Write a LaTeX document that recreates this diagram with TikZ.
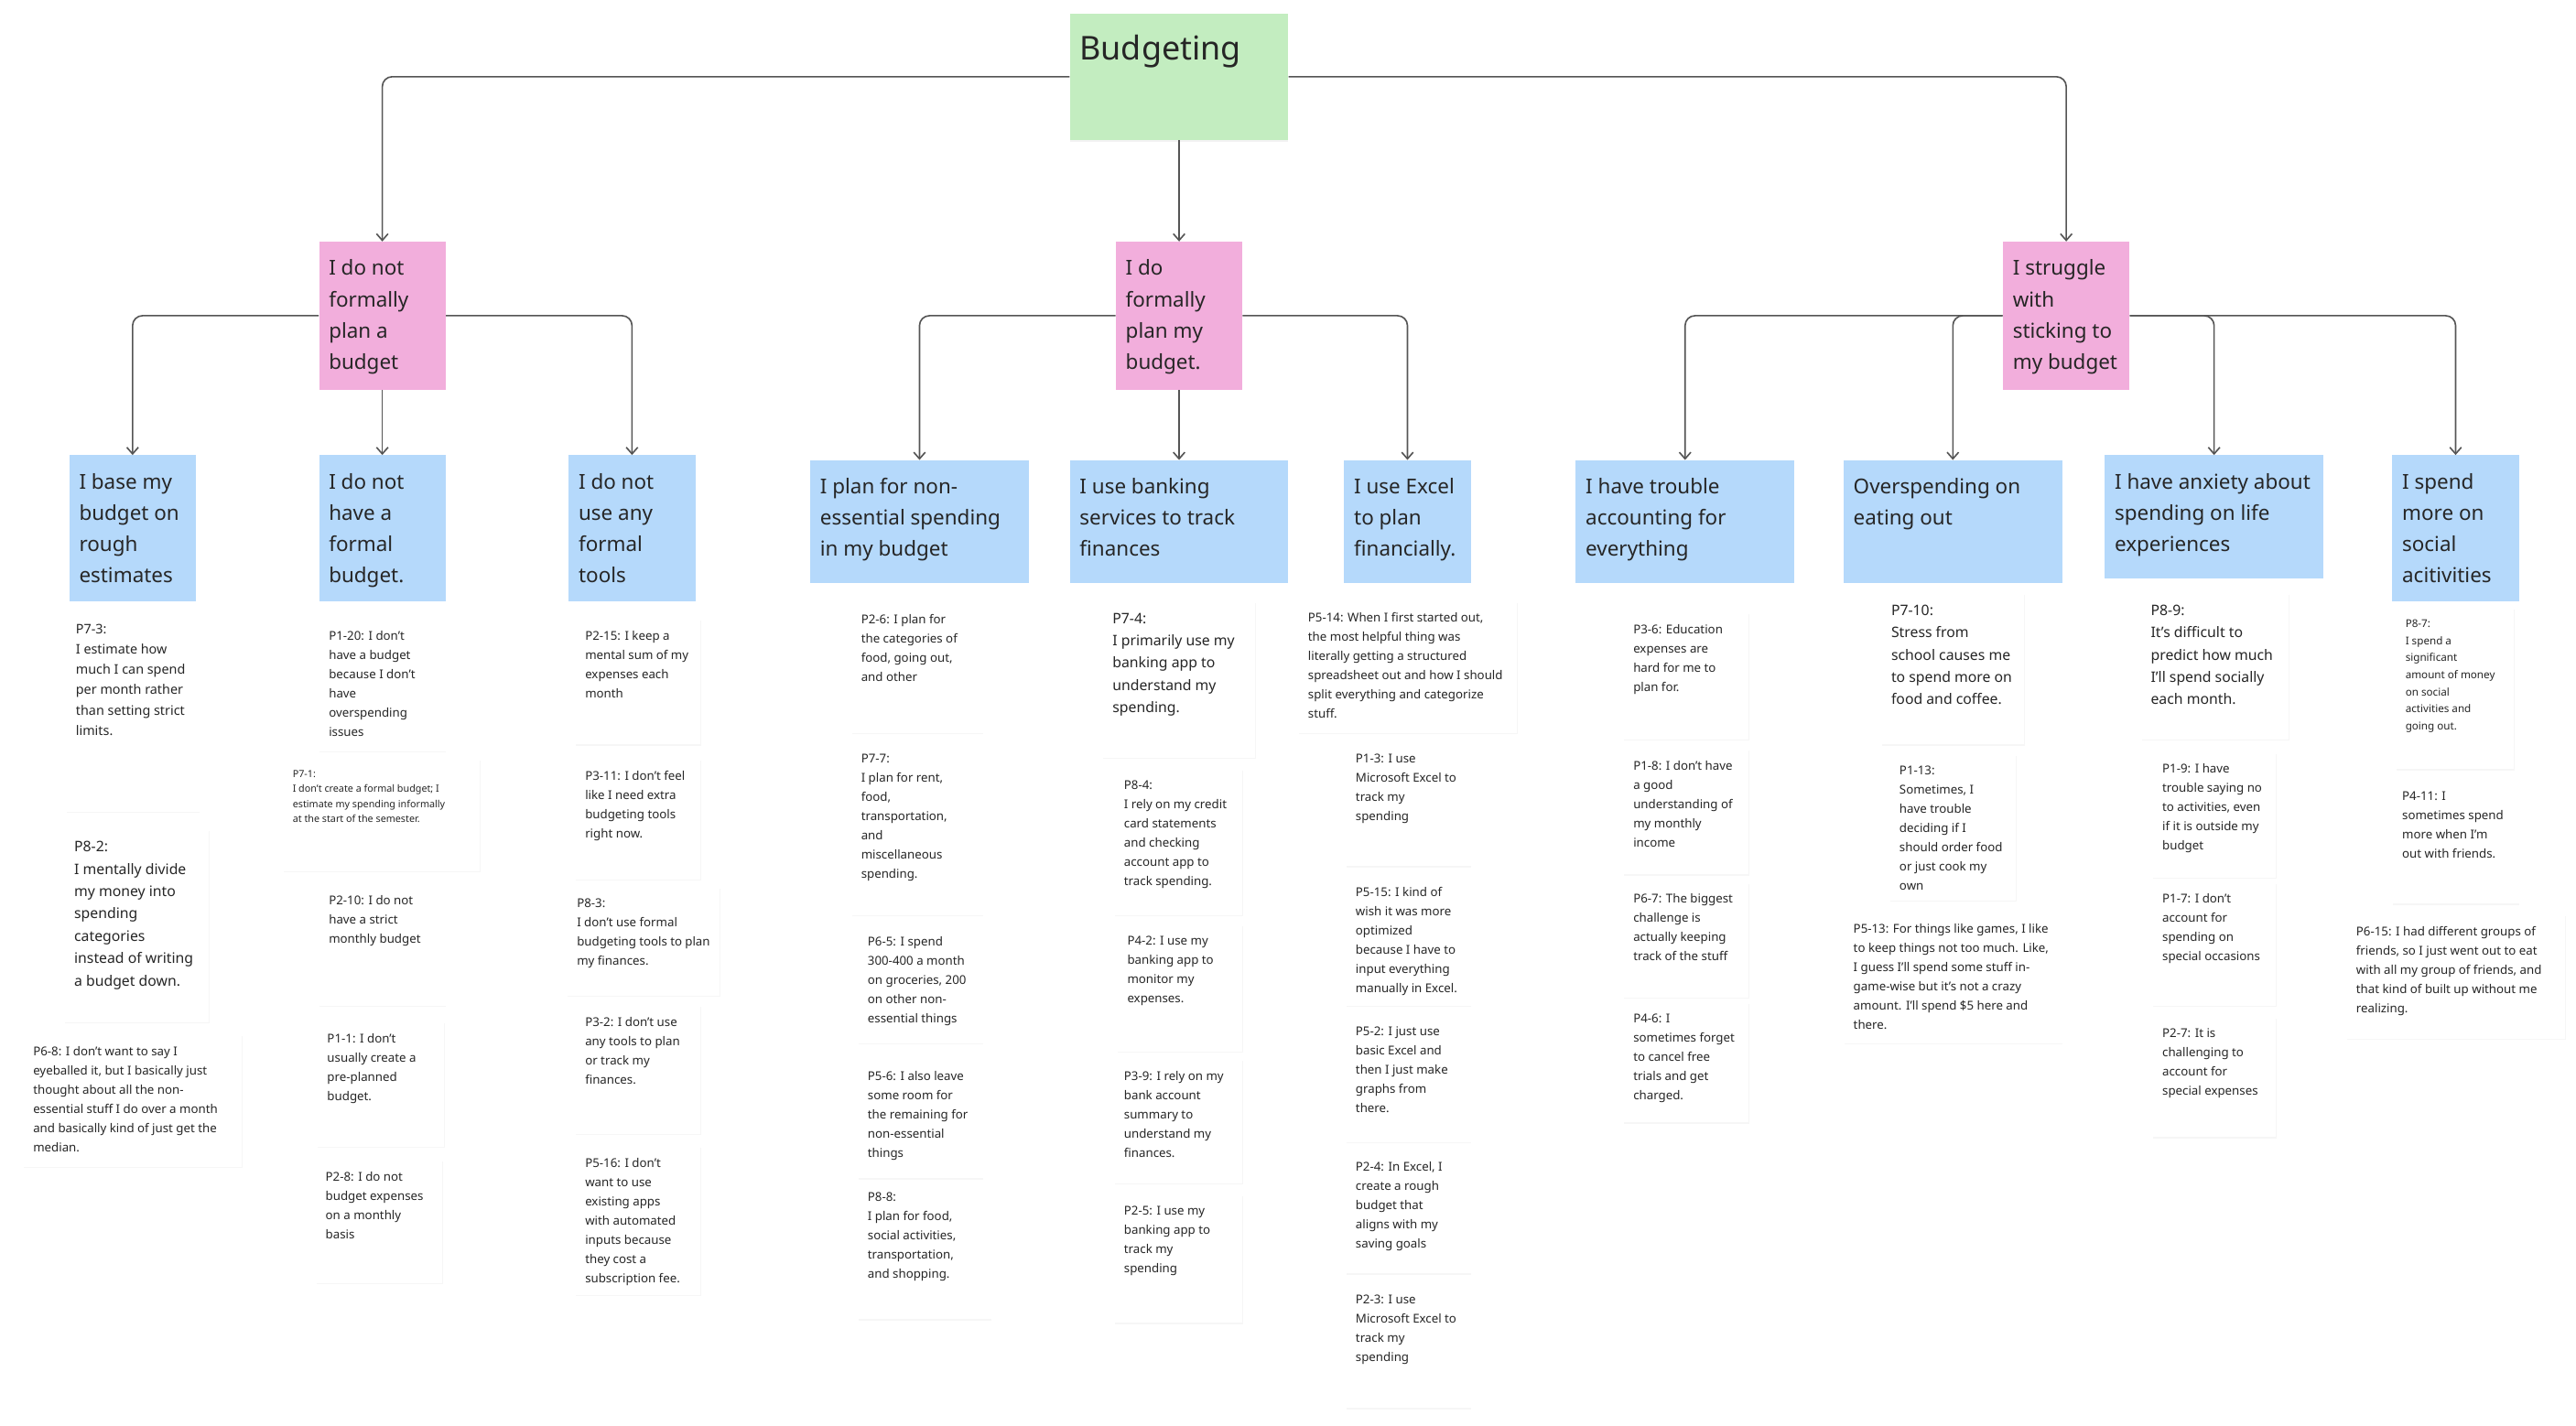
\documentclass[tikz,border=0pt]{standalone}
\usepackage{fontspec}
\setmainfont{Noto Sans}
\usetikzlibrary{arrows.meta,shadows}
\definecolor{rootgreen}{HTML}{C3EDC0}
\definecolor{themepink}{HTML}{F2AEDC}
\definecolor{clusterblue}{HTML}{B5D9FB}
\definecolor{wire}{HTML}{555555}
% card: name, x0, y0, x1, y1, style, text
\newcommand{\card}[7]{%
\pgfmathsetmacro\cardw{#4-#2-12}\pgfmathsetmacro\cardh{#5-#3-14}%
\node[#6, anchor=north west] (#1) at (#2,#3) {\parbox[t][\cardh pt][t]{\cardw pt}{\raggedright #7}};}
\tikzset{
  base/.style={inner xsep=6pt, inner ysep=7pt, text=black!85},
  root/.style={base, fill=rootgreen, font=\fontsize{20}{30}\selectfont, drop shadow={opacity=0.1, shadow xshift=0pt, shadow yshift=-1pt}},
  pink/.style={base, fill=themepink, font=\fontsize{12.5}{19}\selectfont},
  blue/.style={base, fill=clusterblue, font=\fontsize{12.5}{19}\selectfont},
  note/.style={base, fill=white, drop shadow={opacity=0.07, shadow xshift=0.4pt, shadow yshift=-0.8pt}},
  ns/.style={note, font=\fontsize{7.4}{11.7}\selectfont},
  nx/.style={note, font=\fontsize{6}{9}\selectfont},
  nt/.style={note, font=\fontsize{6.5}{10.4}\selectfont},
  nm/.style={note, font=\fontsize{8}{12.3}\selectfont},
  nl/.style={note, font=\fontsize{8.8}{13.6}\selectfont},
  conn/.style={draw=wire, line width=0.9pt, rounded corners=6pt, -{Straight Barb[length=4pt,width=7pt]}},
}
\begin{document}
\begin{tikzpicture}[x=1pt,y=-1pt]
\useasboundingbox[fill=white] (0,0) rectangle (1568,868);
% Drawing root and themes
\card{root}{651}{8}{784}{85}{root}{\vspace*{6pt}Budgeting}
\card{noplan}{194}{147}{271}{237}{pink}{\vspace*{4pt}I do not\\formally\\plan a\\budget}
\card{doplan}{679}{147}{756}{237}{pink}{\vspace*{4pt}I do\\formally\\plan my\\budget.}
\card{struggle}{1219}{147}{1296}{237}{pink}{\vspace*{4pt}I struggle\\with\\sticking to\\my budget}
% Clusters
\card{rough}{42}{277}{119}{366}{blue}{\vspace*{4pt}I base my\\budget on\\rough\\estimates}
\card{noformal}{194}{277}{271}{366}{blue}{\vspace*{4pt}I do not\\have a\\formal\\budget.}
\card{notools}{346}{277}{423}{366}{blue}{\vspace*{4pt}I do not\\use any\\formal\\tools}
\card{nonessential}{493}{280}{626}{355}{blue}{\vspace*{4pt}I plan for non-\\essential spending\\in my budget}
\card{banking}{651}{280}{784}{355}{blue}{\vspace*{4pt}I use banking\\services to track\\finances}
\card{excel}{818}{280}{895}{355}{blue}{\vspace*{4pt}I use Excel\\to plan\\financially.}
\card{trouble}{959}{280}{1092}{355}{blue}{\vspace*{4pt}I have trouble\\accounting for\\everything}
\card{eatingout}{1122}{280}{1255}{355}{blue}{\vspace*{4pt}Overspending on\\eating out}
\card{anxiety}{1281}{277}{1414}{352}{blue}{\vspace*{4pt}I have anxiety about\\spending on life\\experiences}
\card{social}{1456}{277}{1533}{366}{blue}{\vspace*{4pt}I spend\\more on\\social\\acitivities}
% Connectors
\draw[conn] (root.west) -| (noplan.north);
\draw[conn] (root.south) -- (doplan.north);
\draw[conn] (root.east) -| (struggle.north);
\draw[conn] (noplan.west) -| (rough.north);
\draw[conn] (noplan.south) -- (noformal.north);
\draw[conn] (noplan.east) -| (notools.north);
\draw[conn] (doplan.west) -| (nonessential.north);
\draw[conn] (doplan.south) -- (banking.north);
\draw[conn] (doplan.east) -| (excel.north);
\draw[conn] (struggle.west) -| (trouble.north);
\draw[conn] (struggle.west) -| (eatingout.north);
\draw[conn] (struggle.east) -| (anxiety.north);
\draw[conn] (struggle.east) -| (social.north);
% Notes: rough estimates
\card{pSevenThree}{40}{373}{121}{494}{nm}{P7-3:\\I estimate how\\much I can spend\\per month rather\\than setting strict\\limits.}
\card{pEightTwo}{39}{505}{127}{622}{nl}{P8-2:\\I mentally divide\\my money into\\spending\\categories\\instead of writing\\a budget down.}
\card{pSixEight}{14}{630}{147}{710}{ns}{P6-8: I don't want to say I\\eyeballed it, but I basically just\\thought about all the non-\\essential stuff I do over a month\\and basically kind of just get the\\median.}
% Notes: no formal budget
\card{pOneTwenty}{194}{377}{271}{457}{ns}{P1-20: I don't\\have a budget\\because I don't\\have\\overspending\\issues}
\card{pSevenOne}{172}{462}{292}{530}{nx}{P7-1:\\I don't create a formal budget; I\\estimate my spending informally\\at the start of the semester.}
\card{pTwoTen}{194}{538}{271}{612}{ns}{P2-10: I do not\\have a strict\\monthly budget}
\card{pOneOne}{193}{622}{270}{698}{ns}{P1-1: I don't\\usually create a\\pre-planned\\budget.}
\card{pTwoEight}{192}{706}{269}{781}{ns}{P2-8: I do not\\budget expenses\\on a monthly\\basis}
% Notes: no tools
\card{pTwoFifteen}{350}{377}{426}{453}{ns}{P2-15: I keep a\\mental sum of my\\expenses each\\month}
\card{pThreeEleven}{350}{462}{426}{535}{ns}{P3-11: I don't feel\\like I need extra\\budgeting tools\\right now.}
\card{pEightThree}{345}{540}{438}{606}{ns}{P8-3:\\I don't use formal\\budgeting tools to plan\\my finances.}
\card{pThreeTwo}{350}{612}{426}{690}{ns}{P3-2: I don't use\\any tools to plan\\or track my\\finances.}
\card{pFiveSixteen}{350}{698}{426}{788}{ns}{P5-16: I don't\\want to use\\existing apps\\with automated\\inputs because\\they cost a\\subscription fee.}
% Notes: non-essential spending
\card{pTwoSix}{518}{367}{598}{446}{ns}{P2-6: I plan for\\the categories of\\food, going out,\\and other}
\card{pSevenSeven}{518}{452}{598}{557}{ns}{P7-7:\\I plan for rent,\\food,\\transportation,\\and\\miscellaneous\\spending.}
\card{pSixFive}{522}{563}{598}{635}{ns}{P6-5: I spend\\300-400 a month\\on groceries, 200\\on other non-\\essential things}
\card{pFiveSix}{522}{645}{598}{717}{ns}{P5-6: I also leave\\some room for\\the remaining for\\non-essential\\things}
\card{pEightEight}{522}{719}{603}{803}{ns}{P8-8:\\I plan for food,\\social activities,\\transportation,\\and shopping.}
% Notes: banking
\card{pSevenFour}{671}{366}{764}{461}{nl}{P7-4:\\I primarily use my\\banking app to\\understand my\\spending.}
\card{pEightFour}{678}{468}{756}{557}{ns}{P8-4:\\I rely on my credit\\card statements\\and checking\\account app to\\track spending.}
\card{pFourTwo}{680}{563}{756}{640}{ns}{P4-2: I use my\\banking app to\\monitor my\\expenses.}
\card{pThreeNine}{678}{645}{756}{720}{ns}{P3-9: I rely on my\\bank account\\summary to\\understand my\\finances.}
\card{pTwoFive}{678}{727}{756}{805}{ns}{P2-5: I use my\\banking app to\\track my\\spending}
% Notes: Excel
\card{pFiveFourteen}{790}{366}{923}{446}{ns}{P5-14: When I first started out,\\the most helpful thing was\\literally getting a structured\\spreadsheet out and how I should\\split everything and categorize\\stuff.}
\card{pOneThree}{819}{452}{895}{527}{ns}{P1-3: I use\\Microsoft Excel to\\track my\\spending}
\card{pFiveFifteen}{819}{533}{895}{612}{ns}{P5-15: I kind of\\wish it was more\\optimized\\because I have to\\input everything\\manually in Excel.}
\card{pFiveTwo}{819}{618}{895}{695}{ns}{P5-2: I just use\\basic Excel and\\then I just make\\graphs from\\there.}
\card{pTwoFour}{819}{700}{895}{775}{ns}{P2-4: In Excel, I\\create a rough\\budget that\\aligns with my\\saving goals}
\card{pTwoThree}{819}{781}{895}{857}{ns}{P2-3: I use\\Microsoft Excel to\\track my\\spending}
% Notes: accounting
\card{pThreeSix}{988}{373}{1064}{450}{ns}{P3-6: Education\\expenses are\\hard for me to\\plan for.}
\card{pOneEight}{988}{456}{1064}{532}{ns}{P1-8: I don't have\\a good\\understanding of\\my monthly\\income}
\card{pSixSeven}{988}{537}{1064}{607}{ns}{P6-7: The biggest\\challenge is\\actually keeping\\track of the stuff}
\card{pFourSix}{988}{610}{1064}{683}{ns}{P4-6: I\\sometimes forget\\to cancel free\\trials and get\\charged.}
% Notes: eating out
\card{pSevenTen}{1145}{361}{1232}{453}{nl}{P7-10:\\Stress from\\school causes me\\to spend more on\\food and coffee.}
\card{pOneThirteen}{1150}{459}{1227}{548}{ns}{P1-13:\\Sometimes, I\\have trouble\\deciding if I\\should order food\\or just cook my\\own}
\card{pFiveThirteen}{1122}{555}{1255}{635}{ns}{P5-13: For things like games, I like\\to keep things not too much. Like,\\I guess I'll spend some stuff in-\\game-wise but it's not a crazy\\amount. I'll spend \$5 here and\\there.}
% Notes: life experiences
\card{pEightNine}{1303}{361}{1393}{450}{nl}{P8-9:\\It's difficult to\\predict how much\\I'll spend socially\\each month.}
\card{pOneNine}{1310}{458}{1385}{534}{ns}{P1-9: I have\\trouble saying no\\to activities, even\\if it is outside my\\budget}
\card{pOneSeven}{1310}{537}{1385}{612}{ns}{P1-7: I don't\\account for\\spending on\\special occasions}
\card{pTwoSeven}{1310}{619}{1385}{692}{ns}{P2-7: It is\\challenging to\\account for\\special expenses}
% Notes: social activities
\card{pEightSeven}{1458}{370}{1530}{468}{nt}{P8-7:\\I spend a\\significant\\amount of money\\on social\\activities and\\going out.}
\card{pFourEleven}{1456}{475}{1533}{550}{ns}{P4-11: I\\sometimes spend\\more when I'm\\out with friends.}
\card{pSixFifteen}{1428}{557}{1561}{632}{ns}{P6-15: I had different groups of\\friends, so I just went out to eat\\with all my group of friends, and\\that kind of built up without me\\realizing.}
\end{tikzpicture}
\end{document}
